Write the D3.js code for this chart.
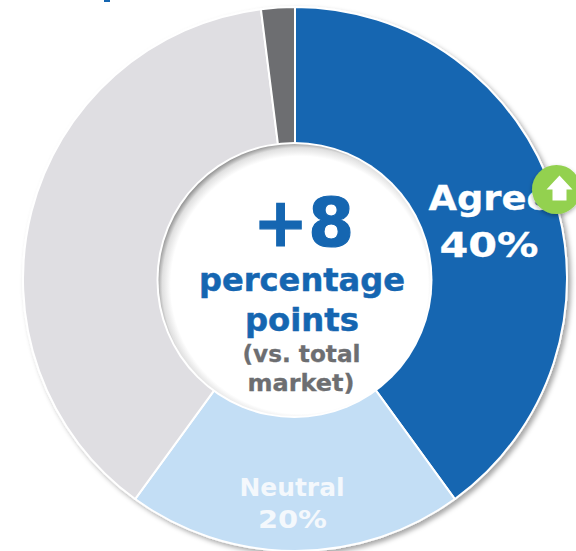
<!DOCTYPE html>
<html>
<head>
<meta charset="utf-8">
<script src="https://cdnjs.cloudflare.com/ajax/libs/d3/7.8.5/d3.min.js"></script>
<style>
html,body{margin:0;padding:0;background:#fff;}
svg{display:block;}
text{font-family:"DejaVu Sans",sans-serif;font-weight:bold;text-anchor:middle;}
</style>
</head>
<body>
<svg id="chart" width="576" height="551"></svg>
<script>
const categories = ["Agree", "Neutral", "Disagree", "Don't know"];
const shares = [40, 20, 38, 2];
const agreeLabel = ["Agree", "40%"];
const neutralLabel = ["Neutral", "20%"];
const centerText = ["+8", "percentage", "points", "(vs. total", "market)"];

const blue = "#1566b1", slate = "#6d6e71";
const sliceColors = [blue, "#c3def5", "#dfdee2", slate];
const cx = 295, cy = 279, outerR = 272, innerR = 136;
const discX = 294.5, discY = 280;

const svg = d3.select("#chart");
const defs = svg.append("defs");

const outerShadow = defs.append("filter").attr("id", "ringShadow")
  .attr("x", "-10%").attr("y", "-10%").attr("width", "120%").attr("height", "120%");
outerShadow.append("feDropShadow")
  .attr("dx", 3).attr("dy", 3).attr("stdDeviation", 2.5)
  .attr("flood-color", "#000").attr("flood-opacity", 0.35);

const badgeShadow = defs.append("filter").attr("id", "badgeShadow")
  .attr("x", "-30%").attr("y", "-30%").attr("width", "160%").attr("height", "160%");
badgeShadow.append("feDropShadow")
  .attr("dx", 0).attr("dy", 2).attr("stdDeviation", 2)
  .attr("flood-color", "#000").attr("flood-opacity", 0.3);

// Soft inner edge on the centre disc, darkest toward the upper left.
const discGlow = defs.append("radialGradient").attr("id", "discGlow")
  .attr("gradientUnits", "userSpaceOnUse")
  .attr("cx", discX + 5).attr("cy", discY + 5).attr("r", innerR + 7);
discGlow.append("stop").attr("offset", "0.9").attr("stop-color", "#fff");
discGlow.append("stop").attr("offset", "0.96").attr("stop-color", "#e0e0e0");
discGlow.append("stop").attr("offset", "1").attr("stop-color", "#8f8f8f");

const pie = d3.pie().value(d => d).sort(null);
const arc = d3.arc().innerRadius(innerR - 4).outerRadius(outerR);

const ring = svg.append("g")
  .attr("transform", `translate(${cx},${cy})`)
  .attr("filter", "url(#ringShadow)");
ring.selectAll("path")
  .data(pie(shares))
  .join("path")
  .attr("d", arc)
  .attr("fill", (d, i) => sliceColors[i])
  .attr("stroke", "#fff")
  .attr("stroke-width", 2)
  .attr("stroke-linejoin", "round");

// Centre disc: white rim, shaded edge, white face.
svg.append("circle").attr("cx", discX).attr("cy", discY).attr("r", innerR + 2).attr("fill", "#fff");
svg.append("circle").attr("cx", discX).attr("cy", discY).attr("r", innerR).attr("fill", "url(#discGlow)");

// Draws one line of text fitted to a given advance width.
function drawLine(t, x, y, size, fill, width, bolder) {
  const el = svg.append("text")
    .attr("x", x).attr("y", y)
    .attr("font-size", size)
    .attr("fill", fill)
    .attr("textLength", width)
    .attr("lengthAdjust", "spacingAndGlyphs")
    .text(t);
  if (bolder) el.attr("stroke", fill).attr("stroke-width", bolder);
}

drawLine(centerText[0], 303.5, 246, 67, blue, 101, 1.2);
drawLine(centerText[1], 302, 291, 32, blue, 206, 0.5);
drawLine(centerText[2], 302, 331, 32, blue, 114, 0.5);
drawLine(centerText[3], 301.5, 362, 23, slate, 118, 0.3);
drawLine(centerText[4], 301, 391, 23, slate, 107, 0.3);

drawLine(agreeLabel[0], 490, 210, 34, "#fff", 123, 0.3);
drawLine(agreeLabel[1], 489, 257, 34, "#fff", 99, 0.3);
drawLine(neutralLabel[0], 292, 496, 25, "#f4f8fc", 105, 0);
drawLine(neutralLabel[1], 292.5, 527.5, 25, "#f4f8fc", 69, 0);

// Sliver of a headline stroke along the top of the frame.
svg.append("rect")
  .attr("x", 104).attr("y", 0)
  .attr("width", 6).attr("height", 2)
  .attr("fill", blue);

// Up-trend badge on the outer edge of the Agree slice.
const badge = svg.append("g").attr("transform", "translate(556.5,189.5)");
badge.append("circle").attr("r", 24.5).attr("fill", "#93d150").attr("filter", "url(#badgeShadow)");
badge.append("path")
  .attr("d", d3.line()([[3,-14],[16,0],[10,0],[10,11],[-4,11],[-4,0],[-10,0]]) + "Z")
  .attr("fill", "#fff");
</script>
</body>
</html>
